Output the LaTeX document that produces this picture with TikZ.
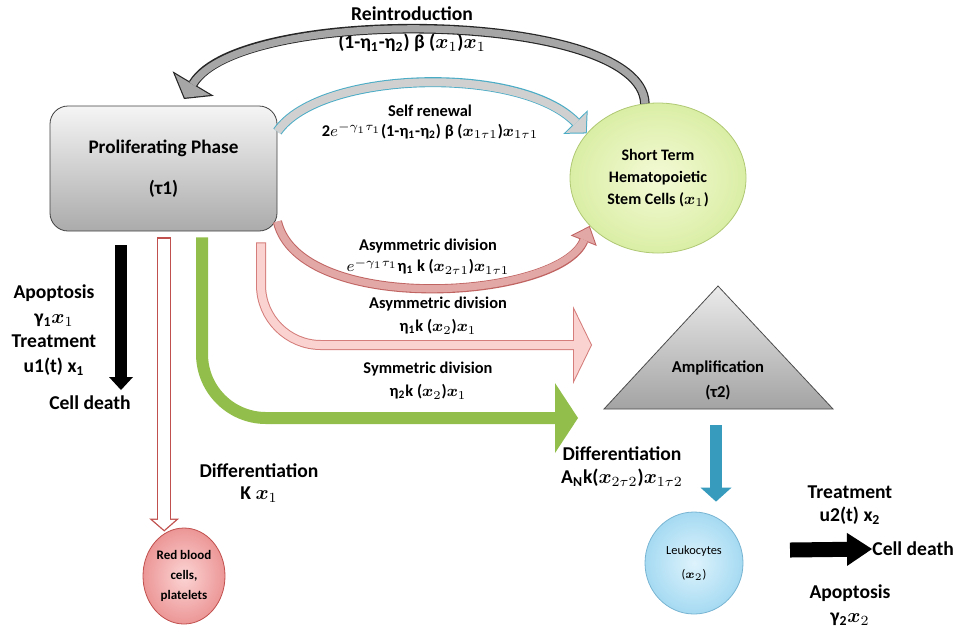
\documentclass[tikz,border=0pt]{standalone}
\usepackage{amsmath}
\usepackage{fontspec}
\setmainfont{Carlito}
\usetikzlibrary{arrows.meta}
\usetikzlibrary{shapes.geometric}

\definecolor{reintroline}{RGB}{38,38,38}
\definecolor{reintrofill}{RGB}{166,166,166}
\definecolor{selfline}{RGB}{75,172,198}
\definecolor{selffill}{RGB}{208,208,208}
\definecolor{asymline}{RGB}{192,100,98}
\definecolor{asymfill}{RGB}{226,168,166}
\definecolor{asymtwoline}{RGB}{212,125,122}
\definecolor{asymtwofill}{RGB}{250,210,208}
\definecolor{symgreen}{RGB}{146,190,76}
\definecolor{rbcline}{RGB}{192,80,77}
\definecolor{rbcinner}{RGB}{252,212,212}
\definecolor{rbcouter}{RGB}{236,150,150}
\definecolor{stemline}{RGB}{175,200,115}
\definecolor{steminner}{RGB}{244,250,214}
\definecolor{stemouter}{RGB}{218,238,165}
\definecolor{leukoline}{RGB}{120,180,210}
\definecolor{leukoinner}{RGB}{222,243,252}
\definecolor{leukoouter}{RGB}{165,218,242}
\definecolor{leukoblue}{RGB}{55,155,190}

% outline first, then the inner colour
\newcommand{\blockarrow}[3]{\draw[#1]#3;\draw[#2]#3;}

\begin{document}
\begin{tikzpicture}[x=0.5pt,y=-0.5pt,
  lbl/.style={font=\fontsize{9.8}{11.8}\selectfont\bfseries, align=center, inner sep=0pt},
  sublbl/.style={font=\fontsize{8.2}{10}\selectfont\bfseries, align=center, inner sep=0pt}]
\useasboundingbox (0,0) rectangle (956,628);

% cells and phases
\node(prolif)[draw=black!75, top color=black!4, bottom color=black!33, rounded corners=9pt, minimum width=113.5pt, minimum height=62.5pt, align=center, font=\fontsize{9.6}{11}\selectfont\bfseries] at (163.5,168.5) {Proliferating Phase\\[9.5pt](τ1)};
\node(stem)[ellipse, draw=stemline, inner color=steminner, outer color=stemouter, minimum width=88pt, minimum height=75pt, align=center, font=\fontsize{8}{10.8}\selectfont\bfseries] at (658,178) {Short Term\\Hematopoietic\\Stem Cells ($\boldsymbol{x}_1$)};
\draw[draw=black!70, top color=black!8, bottom color=black!36] (718,286)--(833,409)--(604,409)--cycle;
\node(amp)[align=center, font=\fontsize{8.3}{12.5}\selectfont\bfseries] at (718,380) {Amplification\\(τ2)};
\node(leuko)[ellipse, draw=leukoline, inner color=leukoinner, outer color=leukoouter, minimum width=49pt, minimum height=51pt, inner sep=1pt, align=center, font=\fontsize{6.2}{12}\selectfont] at (694,563) {Leukocytes\\($\boldsymbol{x}_2$)};
\node(rbc)[ellipse, draw=rbcline, inner color=rbcinner, outer color=rbcouter, minimum width=41pt, minimum height=48pt, inner sep=0pt, align=center, font=\fontsize{6.5}{10}\selectfont\bfseries] at (184,576) {Red blood\\cells,\\platelets};

\coordinate(reintroend) at (184,99);
\coordinate(asymend) at (592,345);
\coordinate(symend) at (578,418);
\coordinate(deathone) at (121,390);
\coordinate(ampbase) at (716,409);
\coordinate(treatstart) at (790,550);

% rates
\node(reintrolbl)[lbl, font=\fontsize{9.8}{14}\selectfont\bfseries] at (412,29) {Reintroduction\\(1-η\textsubscript{1}-η\textsubscript{2}) β ($\boldsymbol{x}_1$)$\boldsymbol{x}_1$};
\node(selflbl)[sublbl] at (430,122) {Self renewal\\2$e^{-\gamma_1\tau_1}$(1-η\textsubscript{1}-η\textsubscript{2}) β ($\boldsymbol{x}_{1\tau1}$)$\boldsymbol{x}_{1\tau1}$};
\node(asymlbl)[sublbl, font=\fontsize{8.2}{10.5}\selectfont\bfseries] at (428,257) {Asymmetric division\\$e^{-\gamma_1\tau_1}$η\textsubscript{1} k ($\boldsymbol{x}_{2\tau1}$)$\boldsymbol{x}_{1\tau1}$};
\node(asymtwolbl)[sublbl, font=\fontsize{8.2}{11.5}\selectfont\bfseries] at (438,316) {Asymmetric division\\η\textsubscript{1}k ($\boldsymbol{x}_2$)$\boldsymbol{x}_1$};
\node(symlbl)[sublbl, font=\fontsize{8.2}{11.5}\selectfont\bfseries] at (428,381) {Symmetric division\\η\textsubscript{2}k ($\boldsymbol{x}_2$)$\boldsymbol{x}_1$};
\node(apolbl)[lbl, font=\fontsize{9.8}{12.3}\selectfont\bfseries] at (54,330) {Apoptosis\\γ\textsubscript{1}$\boldsymbol{x}_1$\\Treatment\\u1(t) x\textsubscript{1}};
\node(deathlbl)[lbl] at (90,403) {Cell death};
\node(difflbl)[lbl, font=\fontsize{9.8}{11}\selectfont\bfseries] at (259,483) {Differentiation\\K $\boldsymbol{x}_1$};
\node(difftwolbl)[lbl, font=\fontsize{9.8}{11.5}\selectfont\bfseries] at (622,467) {Differentiation\\A\textsubscript{N}k($\boldsymbol{x}_{2\tau2}$)$\boldsymbol{x}_{1\tau2}$};
\node(treatlbl)[lbl, font=\fontsize{9.8}{11.5}\selectfont\bfseries] at (850,505) {Treatment\\u2(t) x\textsubscript{2}};
\node(deathtwo)[lbl, anchor=west] at (872,549) {Cell death};
\node(apotwolbl)[lbl, font=\fontsize{9.8}{12}\selectfont\bfseries] at (850,605) {Apoptosis\\γ\textsubscript{2}$\boldsymbol{x}_2$};

% block arrows
\blockarrow{line width=4.8pt, draw=reintroline, -{Triangle[length=9pt,width=24pt,line width=0pt]}}
 {line width=3.6pt, draw=reintrofill, shorten >=0.75pt, -{Triangle[length=7.65pt,width=20.4pt,line width=0pt]}}
 {(stem.100) .. controls (642,10) and (240,5) .. (reintroend)}
\blockarrow{line width=5pt, draw=selfline, -{Triangle[length=8pt,width=17pt,line width=0pt]}}
 {line width=4pt, draw=selffill, shorten >=0.7pt, -{Triangle[length=6.8pt,width=14.5pt,line width=0pt]}}
 {(prolif.18) .. controls (320,70) and (520,65) .. (stem.148)}
\blockarrow{line width=4.6pt, draw=asymline, -{Triangle[length=8pt,width=14pt,line width=0pt]}}
 {line width=3.6pt, draw=asymfill, shorten >=0.76pt, -{Triangle[length=6.75pt,width=11.8pt,line width=0pt]}}
 {(prolif.-25) .. controls (300,316) and (560,300) .. (stem.215)}
\blockarrow{line width=5pt, draw=asymtwoline, rounded corners=30pt, shorten <=5.5pt, -{Triangle[length=9.5pt,width=39pt,line width=0pt]}}
 {line width=4pt, draw=asymtwofill, rounded corners=30pt, shorten <=6pt, shorten >=0.56pt, -{Triangle[length=8.44pt,width=34.7pt,line width=0pt]}}
 {(prolif.south -| 261,0) |- (asymend)}
\draw[line width=6pt, draw=symgreen, rounded corners=32pt, shorten <=3pt, -{Triangle[length=11.5pt,width=35pt,line width=0pt]}] (prolif.south -| 202,0) |- (symend);
\blockarrow{line width=7pt, draw=rbcline, shorten <=3pt, shorten >=1pt, -{Triangle[length=6.5pt,width=15pt,line width=0pt]}}
 {line width=5.7pt, draw=white, shorten <=3.65pt, shorten >=1.86pt, -{Triangle[length=5pt,width=11.5pt,line width=0pt]}}
 {(prolif.south -| rbc.115) -- (rbc.115)}
\draw[line width=6pt, draw=black, shorten <=7pt, -{Triangle[length=6.5pt,width=12pt,line width=0pt]}] (prolif.south -| deathone) -- (deathone);
\draw[line width=6pt, draw=leukoblue, shorten <=8pt, shorten >=5pt, -{Triangle[length=7pt,width=15.5pt,line width=0pt]}] (ampbase) -- (leuko.north -| ampbase);
\draw[line width=7.5pt, draw=black, -{Triangle[length=12.5pt,width=16.5pt,line width=0pt]}] (treatstart) -- (deathtwo.west);

\end{tikzpicture}
\end{document}
